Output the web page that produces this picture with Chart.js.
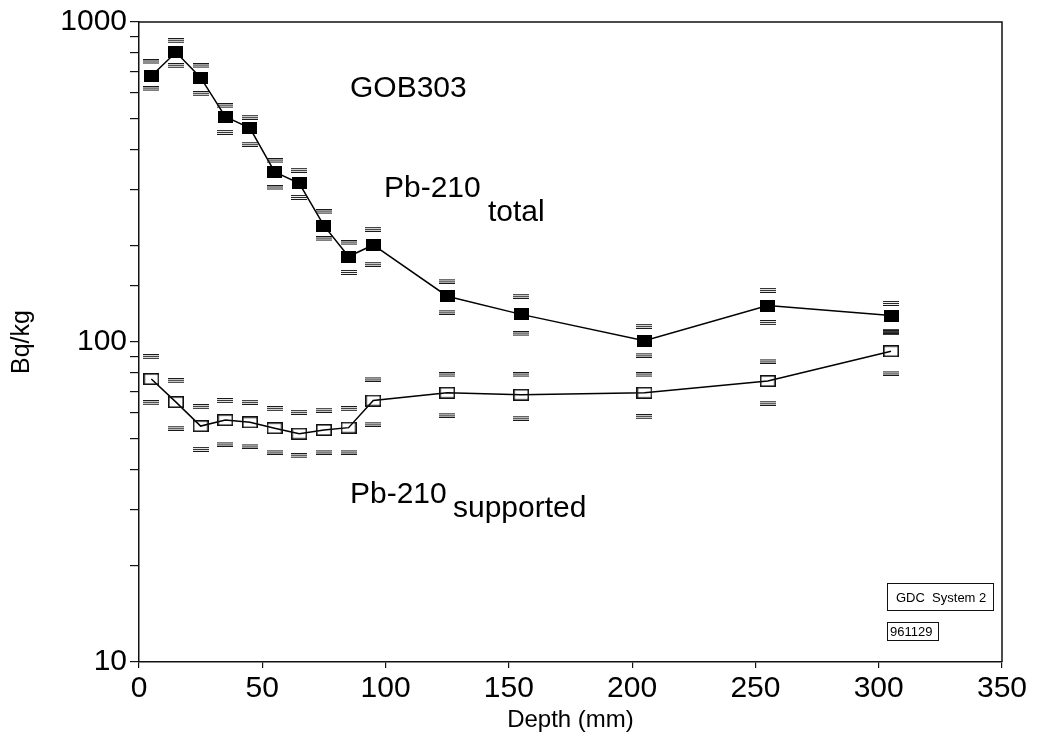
<!DOCTYPE html>
<html>
<head>
<meta charset="utf-8">
<script src="https://cdn.jsdelivr.net/npm/chart.js@4.4.0/dist/chart.umd.min.js"></script>
<style>
  html, body { margin: 0; padding: 0; background: #fff; }
  #chart { display: block; }
</style>
</head>
<body>
<canvas id="chart" width="1037" height="751"></canvas>
<script>
// depth of each slice (mm)
const depth = [5, 15, 25, 35, 45, 55, 65, 75, 85, 95, 125, 155, 205, 255, 305];

// Pb-210 total, Bq/kg, with upper / lower error limits
const totalPb    = [678, 804, 670, 506, 466, 340, 313, 231, 185, 201, 139, 122, 101, 130, 121];
const totalUpper = [750, 874, 729, 547, 504, 368, 344, 255, 204, 225, 155, 139, 112, 145, 132];
const totalLower = [618, 730, 597, 452, 415, 303, 283, 210, 165, 175, 124, 106, 91, 115, 108];

// Pb-210 supported
const supPb    = [76.6, 64.9, 54.6, 57.0, 56.1, 53.8, 51.7, 53.1, 54.0, 65.6, 69.4, 68.4, 69.4, 75.5, 93.6];
const supUpper = [90, 75.7, 62.8, 65.6, 64.8, 61.9, 60.3, 61.2, 61.9, 76.6, 78.9, 78.9, 78.9, 87.2, 107];
const supLower = [64.6, 53.8, 46.2, 48.0, 47.3, 45.3, 44.1, 45.3, 45.3, 55.4, 59.1, 57.8, 58.4, 64.4, 80];

const xTicks = [0, 50, 100, 150, 200, 250, 300, 350];
const yLabels = [10, 100, 1000];

const FONT = '"Liberation Sans", Arial, sans-serif';

function pts(vals) {
  return depth.map((d, i) => ({ x: d, y: vals[i] }));
}

// marker images
function makeCanvas(w, h, draw) {
  const c = document.createElement('canvas');
  c.width = w; c.height = h;
  draw(c.getContext('2d'));
  return c;
}
const filledBox = makeCanvas(15, 12, g => { g.fillStyle = '#000'; g.fillRect(0, 0, 15, 12); });
const openBox = makeCanvas(16, 12, g => {
  g.strokeStyle = '#111'; g.lineWidth = 1.6;
  g.strokeRect(0.8, 0.8, 14.4, 10.4);
});
const errCap = makeCanvas(16, 5, g => {
  g.fillStyle = '#1a1a1a';
  g.fillRect(0, 0, 16, 1);
  g.fillRect(0, 2, 16, 1);
  g.fillRect(0, 4, 16, 1);
});

function capSet(vals) {
  return {
    data: pts(vals), showLine: false,
    pointStyle: errCap, pointRadius: 8, pointHoverRadius: 8
  };
}

const decorations = {
  id: 'decorations',
  afterDraw(chart) {
    const { ctx, chartArea: a } = chart;
    ctx.save();
    ctx.strokeStyle = '#111';
    ctx.lineWidth = 1.5;
    ctx.beginPath();
    ctx.moveTo(a.left, a.top);
    ctx.lineTo(a.right, a.top);
    ctx.lineTo(a.right, a.bottom);
    ctx.stroke();

    ctx.fillStyle = '#000';
    ctx.textBaseline = 'alphabetic';
    ctx.textAlign = 'left';
    ctx.font = '30px ' + FONT;
    ctx.fillText('GOB303', 350, 97);
    ctx.fillText('Pb-210', 384, 197);
    ctx.fillText('total', 488, 221);
    ctx.fillText('Pb-210', 350, 503);
    ctx.fillText('supported', 453, 517);

    ctx.lineWidth = 1;
    ctx.strokeRect(887.5, 583.5, 106, 27);
    ctx.strokeRect(887.5, 622.5, 51, 18);
    ctx.font = '13px ' + FONT;
    ctx.fillText('GDC  System 2', 896, 602);
    ctx.fillText('961129', 890, 636);
    ctx.restore();
  }
};

new Chart(document.getElementById('chart'), {
  type: 'scatter',
  data: {
    datasets: [
      capSet(totalUpper), capSet(totalLower),
      capSet(supUpper), capSet(supLower),
      {
        data: pts(totalPb), showLine: true, borderColor: '#000', borderWidth: 1.5,
        pointStyle: filledBox, pointRadius: 8, tension: 0
      },
      {
        data: pts(supPb), showLine: true, borderColor: '#000', borderWidth: 1.5,
        pointStyle: openBox, pointRadius: 8, tension: 0
      }
    ]
  },
  options: {
    responsive: false,
    animation: false,
    events: [],
    layout: { padding: { top: 22, right: 35, left: 0, bottom: 0 } },
    plugins: { legend: { display: false }, tooltip: { enabled: false } },
    scales: {
      x: {
        type: 'linear', min: 0, max: 350,
        afterBuildTicks(s) { s.ticks = xTicks.map(v => ({ value: v })); },
        afterFit(s) { s.height = 89; },
        border: { display: true, color: '#111', width: 1.5 },
        grid: { drawOnChartArea: false, drawTicks: true, tickLength: 6, color: '#111', lineWidth: 1.2 },
        ticks: { color: '#000', font: { family: FONT, size: 30 }, padding: 3, maxRotation: 0 },
        title: { display: true, text: 'Depth (mm)', color: '#000',
                 font: { family: FONT, size: 24 }, padding: { top: 0, bottom: 16 } }
      },
      y: {
        type: 'logarithmic', min: 10, max: 1000,
        afterFit(s) { s.width = 139; },
        border: { display: true, color: '#111', width: 1.5 },
        grid: { drawOnChartArea: false, drawTicks: true, tickLength: 9, color: '#111', lineWidth: 1.2 },
        ticks: {
          color: '#000', font: { family: FONT, size: 30 }, padding: 3,
          autoSkip: false,
          callback: v => yLabels.includes(v) ? String(v) : ''
        },
        title: { display: true, text: 'Bq/kg', color: '#000',
                 font: { family: FONT, size: 25 }, padding: { top: 7, bottom: 0 } }
      }
    }
  },
  plugins: [decorations]
});
</script>
</body>
</html>
